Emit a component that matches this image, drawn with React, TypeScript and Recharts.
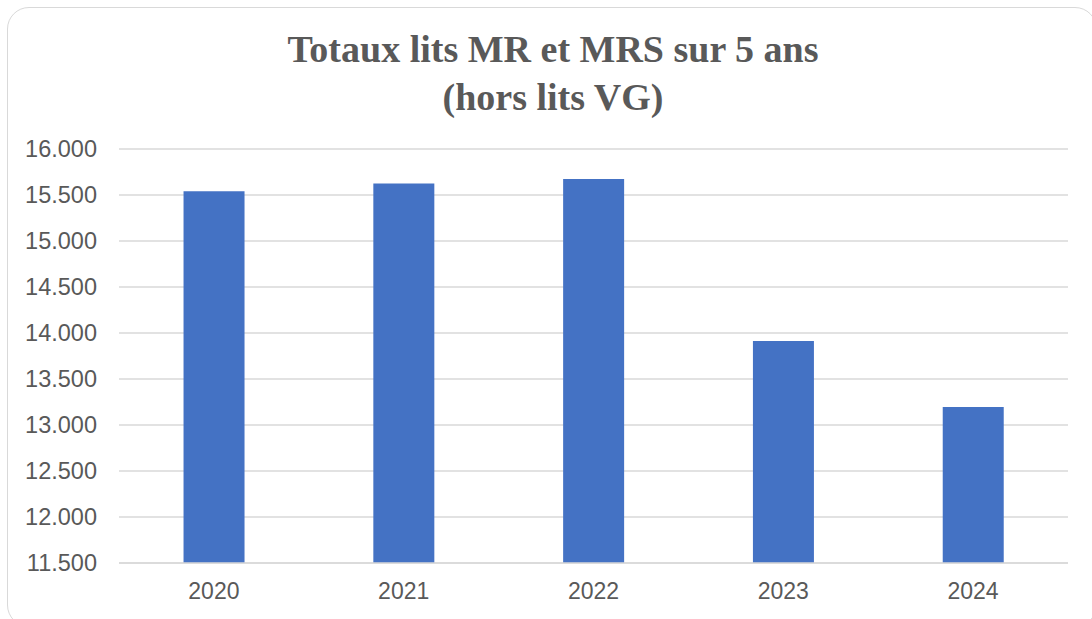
import React from 'react';
import { BarChart, Bar, XAxis, YAxis, CartesianGrid } from 'recharts';

// Values
const years = ['2020', '2021', '2022', '2023', '2024'];
const totalBeds = [15540, 15626, 15673, 13914, 13195];
const yTicks = [11500, 12000, 12500, 13000, 13500, 14000, 14500, 15000, 15500, 16000];

const data = years.map((year, i) => ({ year, total: totalBeds[i] }));

// 15500 -> "15.500"
const formatThousands = (v: number) => String(v).replace(/\B(?=(\d{3})+(?!\d))/g, '.');

const labelFont = "'Liberation Sans', Arial, sans-serif";

export default function App() {
  return (
    <div style={{ position: 'absolute', left: 0, top: 0, width: 1092, height: 619, background: '#fff', overflow: 'hidden' }}>
      {/* card outline */}
      <div
        style={{
          position: 'absolute',
          left: 7,
          top: 7,
          width: 1090,
          height: 620,
          boxSizing: 'border-box',
          border: '1.5px solid #d9d9d9',
          borderRadius: 22,
        }}
      />

      {/* title */}
      <div
        style={{
          position: 'absolute',
          left: 0,
          top: 25,
          width: 1106,
          textAlign: 'center',
          fontFamily: "'Liberation Serif', 'DejaVu Serif', serif",
          fontWeight: 700,
          fontSize: 38,
          lineHeight: '48px',
          color: '#595959',
        }}
      >
        Totaux lits MR et MRS sur 5 ans
        <br />
        (hors lits VG)
      </div>

      <div style={{ position: 'absolute', left: 0, top: 0 }}>
        <BarChart
          width={1092}
          height={619}
          data={data}
          margin={{ top: 149, right: 24, bottom: 26, left: 0 }}
          barCategoryGap="34%"
        >
          <CartesianGrid vertical={false} stroke="#d9d9d9" strokeWidth={1.5} />
          <XAxis
            dataKey="year"
            height={30}
            axisLine={{ stroke: '#d9d9d9', strokeWidth: 1.5 }}
            tickLine={false}
            tickSize={0}
            tickMargin={20}
            tick={{ fill: '#595959', fontSize: 23, fontFamily: labelFont }}
          />
          <YAxis
            width={119}
            domain={[11500, 16000]}
            ticks={yTicks}
            interval={0}
            axisLine={false}
            tickLine={false}
            tickSize={0}
            tickMargin={22}
            tickFormatter={formatThousands}
            tick={{ fill: '#595959', fontSize: 23.5, fontFamily: labelFont }}
          />
          <Bar dataKey="total" fill="#4472C4" isAnimationActive={false} />
        </BarChart>
      </div>
    </div>
  );
}
